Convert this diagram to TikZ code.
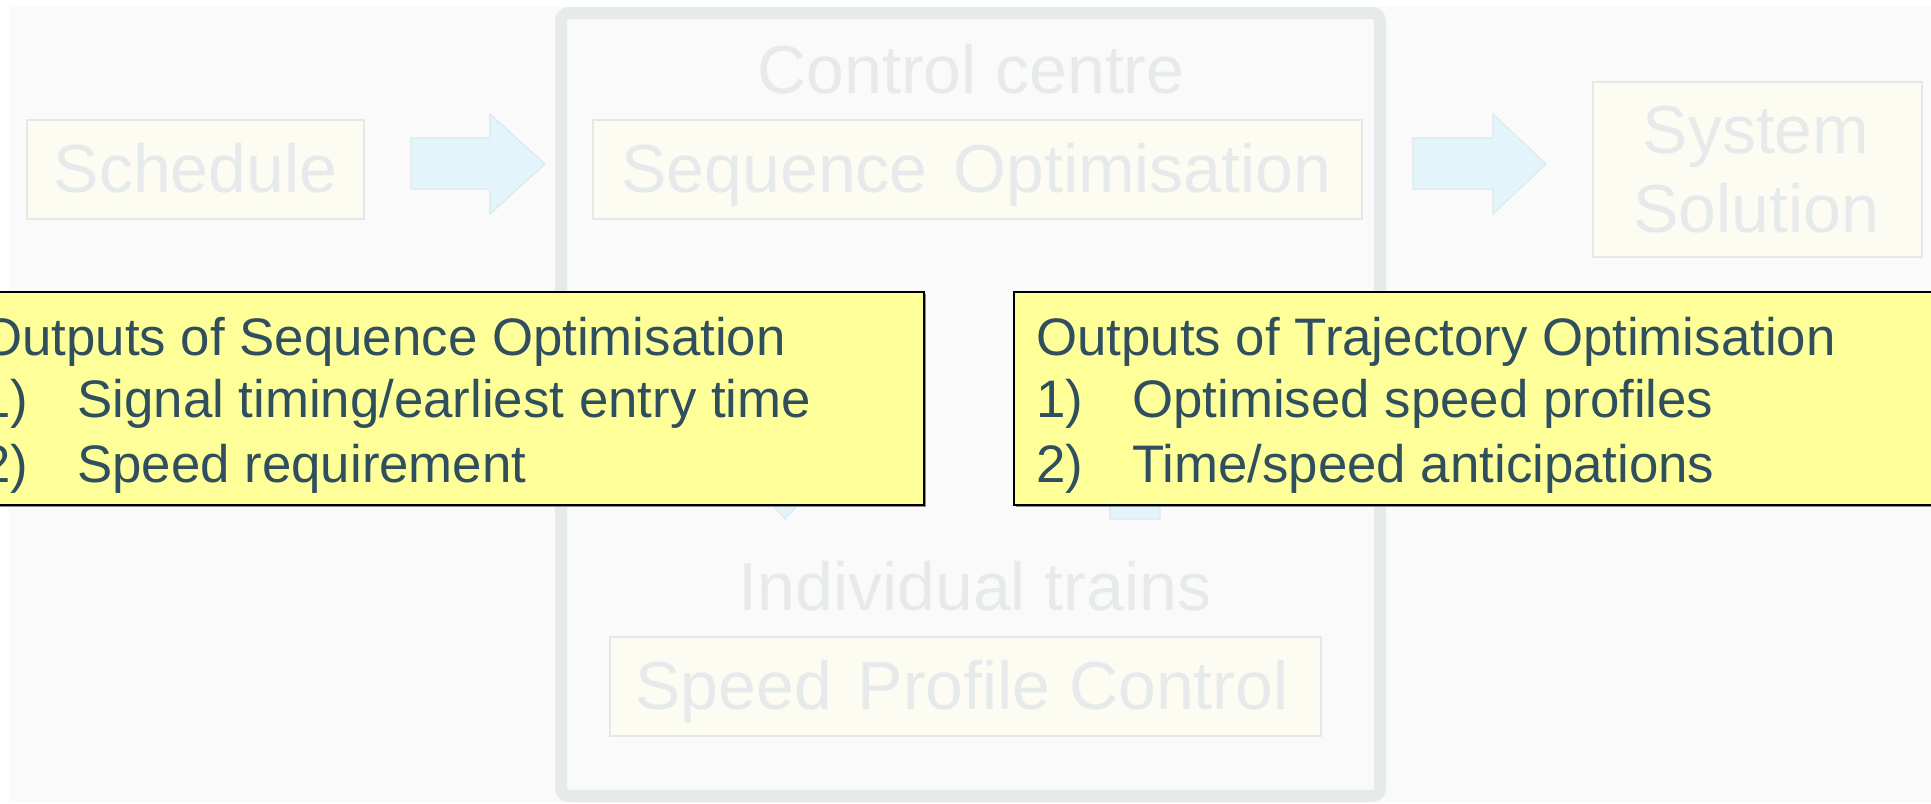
\documentclass[tikz,border=0pt]{standalone}
\usepackage{fontspec}
\setmainfont{Liberation Sans}
\definecolor{bgc}{HTML}{FAFAFA}
\definecolor{framec}{HTML}{E6EAEB}
\definecolor{boxfill}{HTML}{FCFCF3}
\definecolor{boxline}{HTML}{E6E8E8}
\definecolor{fadetxt}{HTML}{E7EAEB}
\definecolor{arrowfill}{HTML}{E3F4FB}
\definecolor{arrowline}{HTML}{DDE9EE}
\definecolor{yellowc}{HTML}{FFFF99}
\definecolor{darktxt}{HTML}{2F4F5F}
\tikzset{
  fadebox/.style={draw=boxline, line width=0.8pt, fill=boxfill, inner sep=0pt},
  fadelabel/.style={text=fadetxt, font=\fontsize{34}{40}\selectfont, anchor=base, inner sep=0pt},
  blockarrow/.style={fill=arrowfill, draw=arrowline, line width=0.6pt},
  outbox/.style={fill=yellowc, draw=black, line width=1pt, inner sep=0pt,
    minimum width=482.5pt, minimum height=106.5pt},
  outshadow/.style={fill=black!45, inner sep=0pt, minimum width=482.5pt, minimum height=106.5pt},
  outtext/.style={text=darktxt, font=\fontsize{26.4}{31}\selectfont, anchor=base west, inner sep=0pt}
}
\begin{document}
\begin{tikzpicture}[x=0.5pt,y=-0.5pt]
\useasboundingbox (0,0) rectangle (1931,803);
\clip (0,0) rectangle (1931,803);
\fill[white] (0,0) rectangle (1931,803);
\fill[bgc] (9,7) rectangle (1931,803);

% control centre frame
\draw[framec, line width=6pt, rounded corners=4pt] (561,13) rectangle (1380,796);
\node[fadelabel] (cc) at (971,93) {Control centre};
\node[fadelabel] (it) at (975,610) {Individual trains};

% faded boxes
\node[fadebox, minimum width=168.5pt, minimum height=49.5pt] (sched) at (195.5,169.5) {};
\node[fadelabel] (schedt) at (195.5,192) {Schedule};

\node[fadebox, minimum width=384.5pt, minimum height=49.5pt] (seq) at (977.5,169.5) {};
\node[fadelabel] (seqt) at (976.5,192) {Sequence\hspace{0.1em} Optimisation};

\node[fadebox, minimum width=164.5pt, minimum height=87.5pt] (sys) at (1757.5,169.5) {};
\node[fadelabel] (syst1) at (1756,153) {System};
\node[fadelabel] (syst2) at (1756,232) {Solution};

\node[fadebox, minimum width=355.5pt, minimum height=49.5pt] (spc) at (965.5,686.5) {};
\node[fadelabel] (spct) at (962,709) {Speed\hspace{0.1em} Profile Control};

% block arrows
\draw[blockarrow] (411,138) -- (490,138) -- (490,114) -- (545,164) -- (490,214) -- (490,189) -- (411,189) -- cycle;
\draw[blockarrow] (1413,138) -- (1493,138) -- (1493,114) -- (1546,164) -- (1493,214) -- (1493,189) -- (1413,189) -- cycle;
\draw[blockarrow] (760,300) -- (811,300) -- (811,464) -- (835,464) -- (785,519) -- (735,464) -- (760,464) -- cycle;
\draw[blockarrow] (1110,519) -- (1160,519) -- (1160,355) -- (1185,355) -- (1135,300) -- (1085,355) -- (1110,355) -- cycle;

% output boxes
\node[outshadow] at (443.5,400.5) {};
\node[outbox] (outseq) at (441.5,398.5) {};
\node[outshadow] at (1498.5,400.5) {};
\node[outbox] (outtraj) at (1496.5,398.5) {};

\node[outtext] (s0) at (-19,355) {Outputs of Sequence Optimisation};
\node[outtext] (s1n) at (-19,417) {1)};
\node[outtext] (s1) at (77,417) {Signal timing/earliest entry time};
\node[outtext] (s2n) at (-19,482) {2)};
\node[outtext] (s2) at (77,482) {Speed requirement};

\node[outtext] (t0) at (1036,355) {Outputs of Trajectory Optimisation};
\node[outtext] (t1n) at (1036,417) {1)};
\node[outtext] (t1) at (1132,417) {Optimised speed profiles};
\node[outtext] (t2n) at (1036,482) {2)};
\node[outtext] (t2) at (1132,482) {Time/speed anticipations};
\end{tikzpicture}
\end{document}
